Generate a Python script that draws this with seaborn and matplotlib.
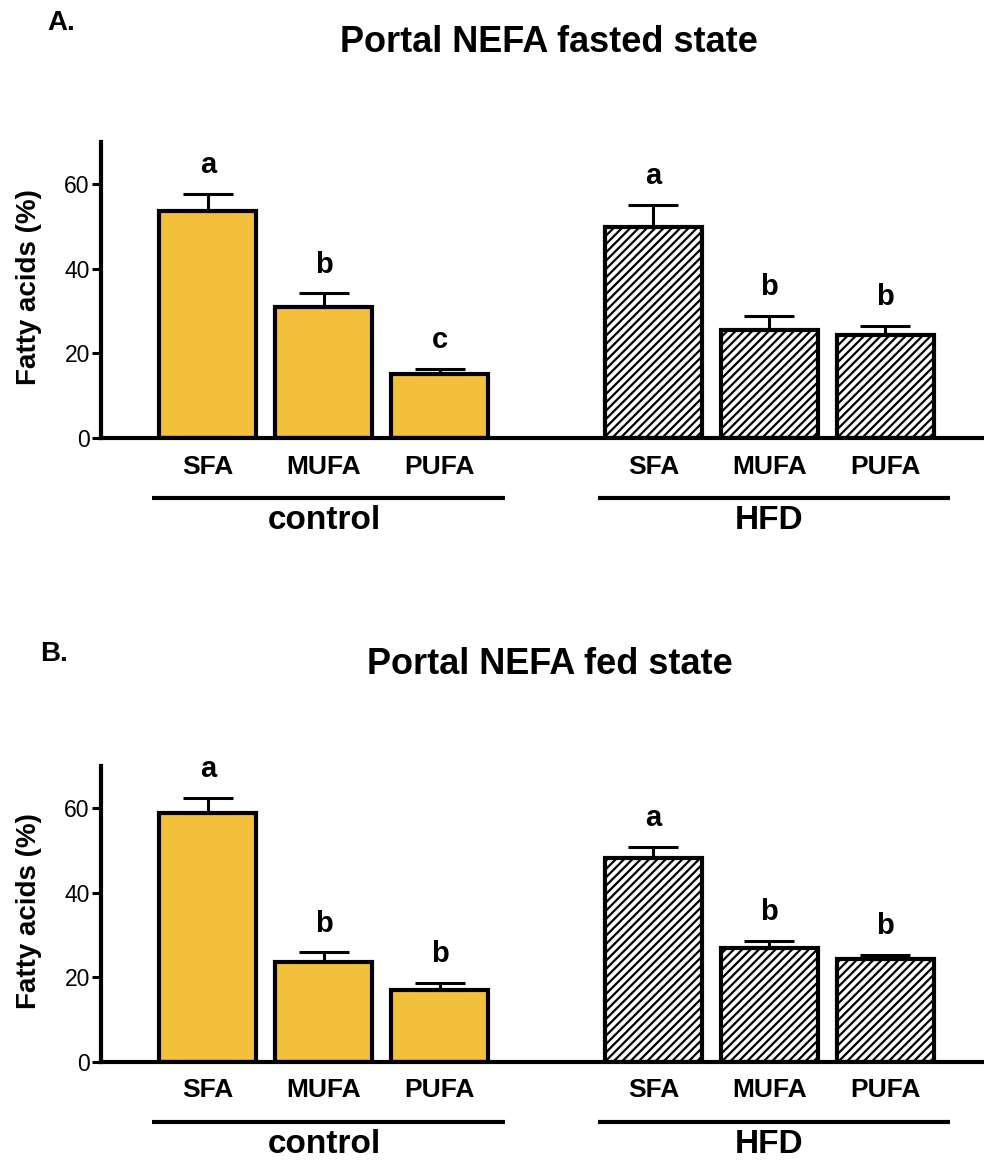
import numpy as np
import pandas as pd
import matplotlib
matplotlib.use("Agg")
import matplotlib.pyplot as plt
import seaborn as sns

# valores (media y error, % de ácidos grasos)
acids = ["SFA", "MUFA", "PUFA"]
diets = ["control", "HFD"]

fasted_mean = [53.6, 31.1, 15.1, 50.0, 25.6, 24.4]
fasted_sem = [4.1, 3.1, 1.3, 5.1, 3.2, 2.2]
fasted_letters = ["a", "b", "c", "a", "b", "b"]

fed_mean = [58.8, 23.7, 16.9, 48.2, 26.9, 24.3]
fed_sem = [3.6, 2.2, 1.7, 2.6, 1.7, 1.0]
fed_letters = ["a", "b", "b", "a", "b", "b"]

yellow = "#F2C03A"

sns.set_theme(style="ticks", rc={
    "text.color": "black", "axes.labelcolor": "black", "axes.edgecolor": "black",
    "xtick.color": "black", "ytick.color": "black", "hatch.linewidth": 1.6,
})
plt.rcParams["font.family"] = ["Liberation Sans", "DejaVu Sans"]

# posiciones de las barras: tres por grupo, con hueco entre grupos
group_gap = 1.84
xpos = np.array([0, 1, 2, 2 + group_gap, 3 + group_gap, 4 + group_gap])


def draw_panel(ax, means, sems, letters):
    df = pd.DataFrame({
        "pos": xpos,
        "value": means,
        "diet": np.repeat(diets, 3),
    })
    sns.barplot(data=df, x="pos", y="value", hue="diet",
                palette={"control": yellow, "HFD": "white"},
                native_scale=True, width=0.836, dodge=False,
                edgecolor="black", linewidth=3, saturation=1,
                errorbar=None, legend=False, ax=ax)
    for p in ax.patches:
        if p.get_x() + p.get_width() / 2 > 2.5:
            p.set_hatch("////")

    ax.errorbar(xpos, means, yerr=[np.zeros(len(means)), sems], fmt="none",
                ecolor="black", elinewidth=2.2, capsize=18, capthick=2.2, zorder=3)

    for x, m, s, l in zip(xpos, means, sems, letters):
        ax.text(x, m + s + 6.8, l, ha="center", va="center",
                fontsize=21, fontweight="bold")

    ax.set_xlim(-0.922, 6.69)
    ax.set_ylim(0, 70)
    ax.set_yticks([0, 20, 40, 60])
    ax.set_xticks(xpos)
    ax.set_xticklabels(acids * 2)
    for t in ax.get_xticklabels():
        t.set_fontweight("bold")
    ax.set_xticks([xpos[1], xpos[4]], minor=True)
    ax.tick_params(axis="x", which="major", length=0, pad=12, labelsize=19)
    ax.tick_params(axis="x", which="minor", length=7, width=2.2, direction="out")
    ax.tick_params(axis="y", length=6.5, width=2.2, labelsize=16.5, pad=1.5,
                   direction="out")
    ax.set_xlabel("")
    ax.set_ylabel("Fatty acids (%)", fontsize=20, fontweight="bold")
    ax.yaxis.set_label_coords(-0.067, 0.51)

    sns.despine(ax=ax)
    for side in ["left", "bottom"]:
        ax.spines[side].set_linewidth(3)

    # líneas y nombres de los grupos
    trans = ax.get_xaxis_transform()
    for g, diet in enumerate(diets):
        first, mid, last = xpos[3 * g], xpos[3 * g + 1], xpos[3 * g + 2]
        ax.plot([first - 0.48, last + 0.56], [-0.203, -0.203], transform=trans,
                color="black", lw=3, clip_on=False, solid_capstyle="butt")
        ax.text(mid, -0.226, diet, transform=trans, ha="center", va="top",
                fontsize=24, fontweight="bold")


fig = plt.figure(figsize=(9.84, 11.61), dpi=100)
axA = fig.add_axes([0.1026, 0.6227, 0.8974, 0.2550])
axB = fig.add_axes([0.1026, 0.0855, 0.8974, 0.2547])

draw_panel(axA, fasted_mean, fasted_sem, fasted_letters)
draw_panel(axB, fed_mean, fed_sem, fed_letters)

fig.text(549 / 984, 1 - 42 / 1161, "Portal NEFA fasted state", ha="center",
         va="center", fontsize=26, fontweight="bold")
fig.text(550 / 984, 1 - 665 / 1161, "Portal NEFA fed state", ha="center",
         va="center", fontsize=26, fontweight="bold")
fig.text(47 / 984, 1 - 22.5 / 1161, "A.", ha="left", va="center",
         fontsize=20, fontweight="bold")
fig.text(40 / 984, 1 - 654 / 1161, "B.", ha="left", va="center",
         fontsize=20, fontweight="bold")

fig.savefig("out.png", dpi=100)
